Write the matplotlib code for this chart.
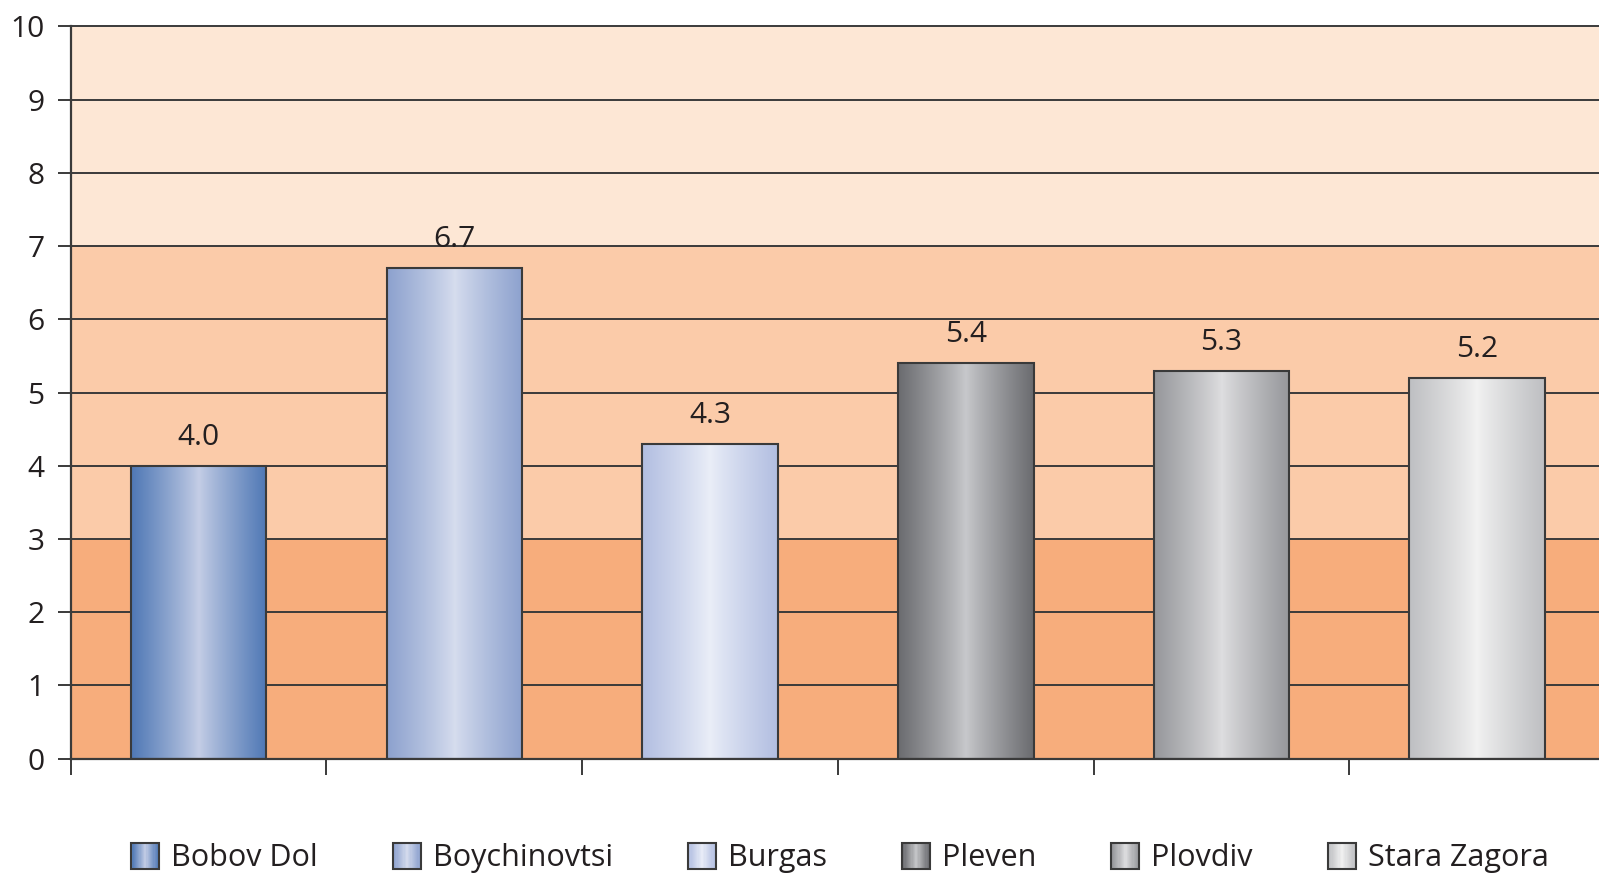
import numpy as np
import matplotlib
matplotlib.use("Agg")
import matplotlib.pyplot as plt
from matplotlib.patches import Rectangle
from matplotlib.legend_handler import HandlerBase
from matplotlib.colors import to_rgb

# ---- data ----
cities = ["Bobov Dol", "Boychinovtsi", "Burgas", "Pleven", "Plovdiv", "Stara Zagora"]
values = [4.0, 6.7, 4.3, 5.4, 5.3, 5.2]
value_labels = ["4.0", "6.7", "4.3", "5.4", "5.3", "5.2"]
y_ticks = [0, 1, 2, 3, 4, 5, 6, 7, 8, 9, 10]
bands = [(0, 3), (3, 7), (7, 10)]

# ---- style ----
edge_colors = ["#4F78B5", "#8CA1CE", "#B2BEE1", "#6A6B6F", "#96979B", "#BEBFC2"]
center_colors = ["#C5CEE6", "#D6DDEE", "#EAEEF8", "#C8C9CC", "#DEDEE0", "#F2F2F2"]
band_colors = ["#F7AD7C", "#FBCBA9", "#FDE7D5"]
text_color = "#231F20"
line_color = "#3A3A3A"

plt.rcParams['font.family'] = ['Open Sans', 'DejaVu Sans']

W, H = 1599, 874
fig = plt.figure(figsize=(W / 100, H / 100), dpi=100)
ax = fig.add_axes([70.8 / W, 115.3 / H, 1534.2 / W, 732.2 / H])


def gradient_row(edge, center, n=256):
    e = np.array(to_rgb(edge))
    c = np.array(to_rgb(center))
    x = np.linspace(0, 1, n)
    t = np.abs(2 * x - 1) ** 0.9
    return (c[None, :] * (1 - t[:, None]) + e[None, :] * t[:, None])


for (lo, hi), col in zip(bands, band_colors):
    ax.axhspan(lo, hi, color=col, zorder=0, lw=0)

x = np.arange(len(cities))
bars = ax.bar(x, values, width=0.53, facecolor="none", edgecolor=line_color,
              linewidth=1.5, zorder=3)

for b, ec, cc in zip(bars, edge_colors, center_colors):
    img = gradient_row(ec, cc)[None, :, :]
    ax.imshow(img, extent=[b.get_x(), b.get_x() + b.get_width(), 0, b.get_height()],
              aspect='auto', zorder=2, interpolation='bilinear')

for b, lab in zip(bars, value_labels):
    ax.annotate(lab, (b.get_x() + b.get_width() / 2, b.get_height()),
                xytext=(0, 15), textcoords='offset points', ha='center',
                va='baseline', fontsize=21.5, color=text_color, zorder=4)

ax.set_xlim(-0.5, len(cities) - 0.5)
ax.set_ylim(0, 10)
ax.set_yticks(y_ticks)
ax.set_yticklabels([str(v) for v in y_ticks])
ax.set_xticks(np.arange(len(cities) + 1) - 0.5)
ax.set_xticklabels([])

ax.yaxis.grid(True, color=line_color, linewidth=1.4)
ax.xaxis.grid(False)
for gl in ax.get_ygridlines():
    gl.set_zorder(1)
    gl.set_clip_on(False)

ax.tick_params(axis='y', direction='out', length=9.4, width=1.4, color=line_color,
               pad=9.6, labelsize=21.5, labelcolor=text_color)
ax.tick_params(axis='x', direction='out', length=11.5, width=1.4, color=line_color)

for s in ['top', 'right']:
    ax.spines[s].set_visible(False)
for s in ['left', 'bottom']:
    ax.spines[s].set_color(line_color)
    ax.spines[s].set_linewidth(1.6)
    ax.spines[s].set_zorder(5)


class GradientHandler(HandlerBase):
    def __init__(self, edge, center):
        super().__init__()
        self.edge = edge
        self.center = center

    def create_artists(self, legend, orig_handle, xdescent, ydescent, width, height,
                       fontsize, trans):
        cols = gradient_row(self.edge, self.center, n=24)
        n = len(cols)
        x0, y0 = -xdescent, -ydescent
        arts = []
        for i, c in enumerate(cols):
            arts.append(Rectangle((x0 + width * i / n, y0), width / n * 1.05, height,
                                  facecolor=c, edgecolor='none', transform=trans))
        arts.append(Rectangle((x0, y0), width, height, facecolor='none',
                              edgecolor=line_color, linewidth=1.5, transform=trans))
        return arts


fs = 22
fs_px = fs * 100 / 72
handler_map = {b: GradientHandler(ec, cc) for b, ec, cc in zip(bars, edge_colors, center_colors)}
leg = fig.legend(handles=list(bars), labels=cities, handler_map=handler_map,
                 loc='center', bbox_to_anchor=(840 / W, 16 / H), ncol=len(cities),
                 frameon=False, fontsize=fs, handlelength=28 / fs_px, handleheight=28 / fs_px,
                 handletextpad=12 / fs_px, columnspacing=75 / fs_px, borderpad=0,
                 borderaxespad=0)
for t in leg.get_texts():
    t.set_color(text_color)

fig.savefig("out.png", dpi=100)
